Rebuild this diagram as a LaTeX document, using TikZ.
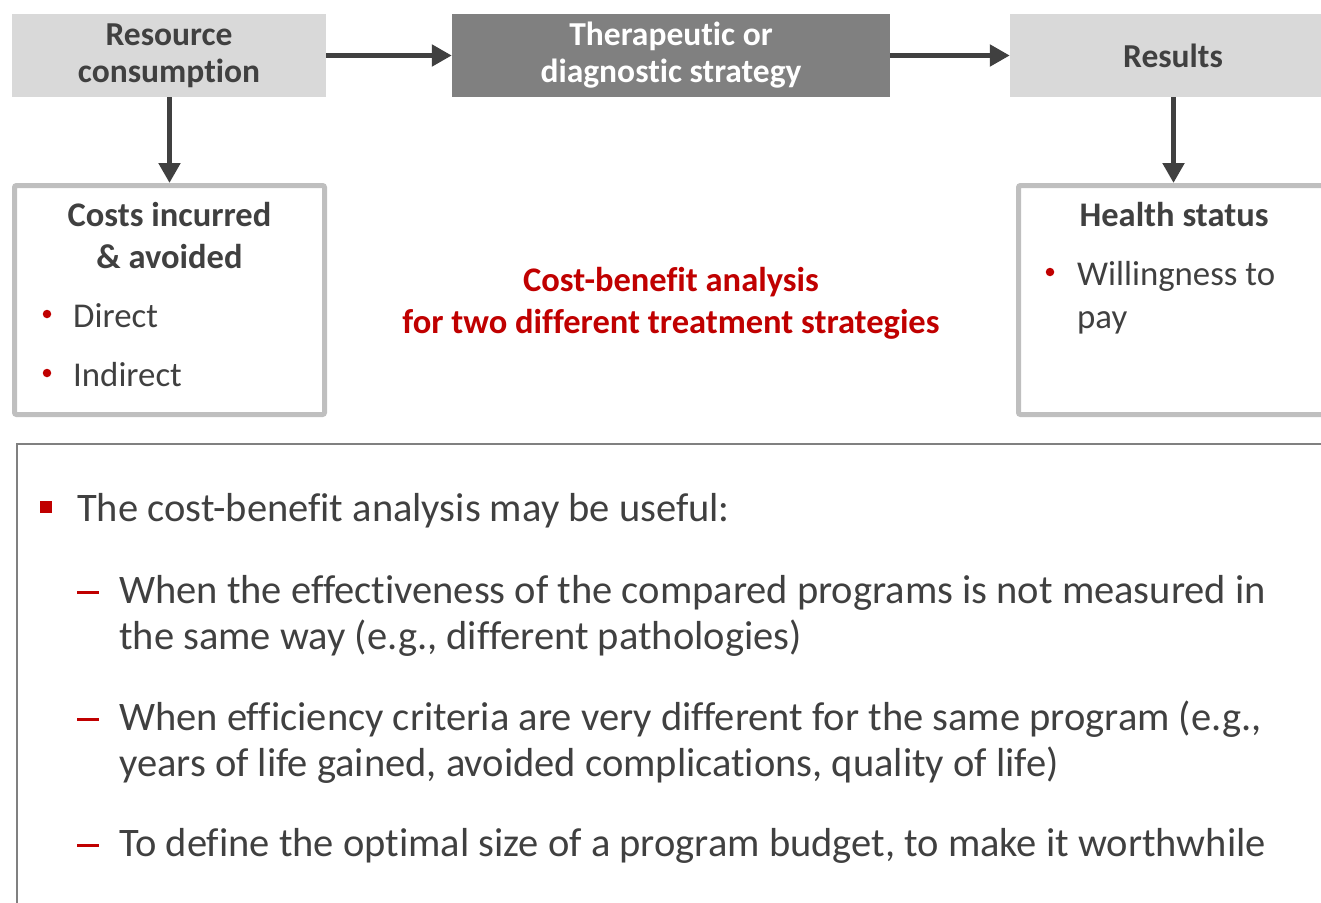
\documentclass[tikz,border=0pt]{standalone}
\usepackage{fontspec}
\setmainfont{Carlito}[Ligatures=NoCommon]
\usetikzlibrary{arrows.meta, positioning}
\definecolor{hcGray}{HTML}{D9D9D9}
\definecolor{hcDark}{HTML}{808080}
\definecolor{hcText}{HTML}{404040}
\definecolor{hcLine}{HTML}{BFBFBF}
\definecolor{hcRed}{HTML}{C00000}
\tikzset{
  arrowD/.style={-{Triangle[length=20pt,width=21pt]}, hcText, line width=5pt},
  boxA/.style={rectangle, fill=hcGray, text=hcText, align=center,
               font=\bfseries\fontsize{33.5}{37}\selectfont, inner sep=0pt,
               minimum width=314pt, minimum height=83pt},
  boxDark/.style={rectangle, fill=hcDark, text=white, align=center,
                  font=\bfseries\fontsize{33.5}{37}\selectfont, inner sep=0pt,
                  minimum width=438pt, minimum height=83pt},
  boxOut/.style={rectangle, draw=hcLine, line width=5pt, rounded corners=2pt,
                 inner sep=0pt, minimum width=310pt, minimum height=229pt},
  headT/.style={text=hcText, align=center, inner sep=0pt,
                font=\bfseries\fontsize{34.5}{42}\selectfont},
  itemT/.style={text=hcText, anchor=base west, inner sep=0pt, align=left,
                font=\fontsize{34.8}{43}\selectfont},
  dotR/.style={circle, fill=hcRed, minimum size=8.5pt, inner sep=0pt},
  sqR/.style={rectangle, fill=hcRed, minimum size=12pt, inner sep=0pt},
  bodyT/.style={text=hcText, anchor=base west, inner sep=0pt, align=left,
                font=\fontsize{40.5}{46}\selectfont},
  dashR/.style={anchor=base west, inner sep=0pt, text=hcRed},
}
\newcommand{\redDash}{\rule[9pt]{22pt}{3.5pt}}
\begin{document}
\begin{tikzpicture}[x=1pt, y=-1pt]
    \useasboundingbox (0,0) rectangle (1321,902);
    \clip (0,0) rectangle (1321,902);
    %% top row
    \node[boxA] (res) at (169, 55.5) {Resource\\consumption};
    \node[boxDark] (strat) at (671, 55.5) {Therapeutic or\\diagnostic strategy};
    \node[boxA, minimum width=326pt] (resu) at (1173, 55.5) {Results};
    \draw[arrowD] (res) -- (strat); \draw[arrowD] (strat) -- (resu);
    %% outlined boxes
    \node[boxOut] (costs) at (169.5, 300) {};
    \node[boxOut] (health) at (1173.5, 300) {};
    \draw[arrowD] (res.south -| costs.north) -- (costs.north);
    \draw[arrowD] (health.north |- resu.south) -- (health.north);
    \node[headT] (costsT) at (169.5, 236) {Costs incurred\\\& avoided};
    \node[dotR] (d1) at (47, 314) {};
    \node[itemT] (direct) at (73, 327) {Direct};
    \node[dotR] (d2) at (47, 373) {};
    \node[itemT] (indir) at (73, 386) {Indirect};
    \node[headT] (healthT) at (1174, 215) {Health status};
    \node[dotR] (d3) at (1050, 272) {};
    \node[itemT] (willing) at (1077, 328) {Willingness to\\pay};
    %% centre label
    \node[text=hcRed, align=center, font=\bfseries\fontsize{34.5}{42}\selectfont]
         (cba) at (671, 303) {Cost-benefit analysis\\for two different treatment strategies};
    %% bottom panel
    \node[draw=hcDark, line width=2pt, minimum width=1330pt, minimum height=500pt,
          inner sep=0pt] (panel) at (682, 694) {};
    \node[sqR] (sq) at (46, 507) {};
    \node[bodyT] (intro) at (77, 521) {The cost-benefit analysis may be useful:};
    \node[dashR] (m1) at (77, 603) {\redDash};
    \node[bodyT] (t1) at (119, 649) {When the effectiveness of the compared programs is not measured in\\the same way (e.g., different pathologies)};
    \node[dashR] (m2) at (77, 730) {\redDash};
    \node[bodyT] (t2) at (119, 776) {When efficiency criteria are very different for the same program (e.g.,\\years of life gained, avoided complications, quality of life)};
    \node[dashR] (m3) at (77, 856) {\redDash};
    \node[bodyT] (t3) at (119, 856) {To define the optimal size of a program budget, to make it worthwhile};
\end{tikzpicture}
\end{document}
